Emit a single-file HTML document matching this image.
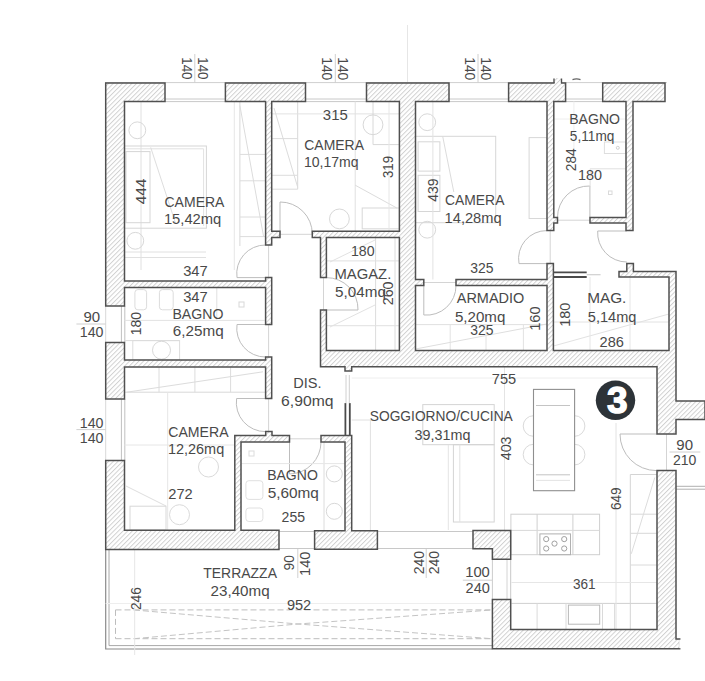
<!DOCTYPE html>
<html><head><meta charset="utf-8"><style>
html,body{margin:0;padding:0;background:#fff;}
svg{display:block;}
text{font-family:"Liberation Sans",sans-serif;fill:#494949;}
</style></head><body>
<svg width="705" height="681" viewBox="0 0 705 681">
<defs>
<pattern id="h" patternUnits="userSpaceOnUse" width="3.3" height="4" patternTransform="rotate(45)">
<rect width="3.3" height="4" fill="#fff"/>
<line x1="0.5" y1="0" x2="0.5" y2="4" stroke="#cdcdcd" stroke-width="0.9"/>
</pattern>
</defs>
<rect width="705" height="681" fill="#fff"/>
<line x1="407.5" y1="25" x2="407.5" y2="83" stroke="#e6e6e6" stroke-width="1" />
<line x1="105" y1="82.6" x2="667" y2="82.6" stroke="#cfcfcf" stroke-width="1" />
<line x1="165" y1="99" x2="225.4" y2="99" stroke="#c8c8c8" stroke-width="1" />
<line x1="165" y1="101.6" x2="225.4" y2="101.6" stroke="#c8c8c8" stroke-width="1" />
<line x1="305.5" y1="99" x2="366.5" y2="99" stroke="#c8c8c8" stroke-width="1" />
<line x1="305.5" y1="101.6" x2="366.5" y2="101.6" stroke="#c8c8c8" stroke-width="1" />
<line x1="449" y1="99" x2="508.6" y2="99" stroke="#c8c8c8" stroke-width="1" />
<line x1="449" y1="101.6" x2="508.6" y2="101.6" stroke="#c8c8c8" stroke-width="1" />
<line x1="565.6" y1="99" x2="602.7" y2="99" stroke="#c8c8c8" stroke-width="1" />
<line x1="565.6" y1="101.6" x2="602.7" y2="101.6" stroke="#c8c8c8" stroke-width="1" />
<line x1="121.4" y1="306" x2="121.4" y2="342.4" stroke="#c0c0c0" stroke-width="1" />
<line x1="124.8" y1="306" x2="124.8" y2="342.4" stroke="#c0c0c0" stroke-width="1" />
<line x1="105.7" y1="306" x2="105.7" y2="342.4" stroke="#d8d8d8" stroke-width="1" />
<line x1="121.4" y1="399" x2="121.4" y2="460.5" stroke="#c0c0c0" stroke-width="1" />
<line x1="124.8" y1="399" x2="124.8" y2="460.5" stroke="#c0c0c0" stroke-width="1" />
<line x1="105.7" y1="399" x2="105.7" y2="460.5" stroke="#d8d8d8" stroke-width="1" />
<line x1="279" y1="531.5" x2="314.6" y2="531.5" stroke="#c8c8c8" stroke-width="1" />
<line x1="279" y1="548.5" x2="314.6" y2="548.5" stroke="#c8c8c8" stroke-width="1" />
<line x1="377.4" y1="531.5" x2="473" y2="531.5" stroke="#c8c8c8" stroke-width="1" />
<line x1="377.4" y1="548.5" x2="473" y2="548.5" stroke="#c8c8c8" stroke-width="1" />
<line x1="510.7" y1="560" x2="510.7" y2="599.5" stroke="#c8c8c8" stroke-width="1" />
<line x1="507" y1="560" x2="507" y2="599.5" stroke="#d4d4d4" stroke-width="1" />
<line x1="492.4" y1="549.4" x2="492.4" y2="599.5" stroke="#cccccc" stroke-width="1" />
<path d="M265.6,277.6 L237,277.6 A28.600000000000023,28.600000000000023 0 0 1 265.6,245" fill="none" stroke="#bdbdbd" stroke-width="1" />
<path d="M280,234 L280,202 A32,32 0 0 1 312.3,234" fill="none" stroke="#bdbdbd" stroke-width="1" />
<path d="M326.4,310 L358,310 A31.600000000000023,31.600000000000023 0 0 0 326.4,277.6" fill="none" stroke="#bdbdbd" stroke-width="1" />
<path d="M265.6,324.5 L237,324.5 A28.600000000000023,28.600000000000023 0 0 0 265.6,357" fill="none" stroke="#bdbdbd" stroke-width="1" />
<path d="M265.6,398.5 L236.6,398.5 A29.00000000000003,29.00000000000003 0 0 0 265.6,431.6" fill="none" stroke="#bdbdbd" stroke-width="1" />
<path d="M289.5,442 L289.5,474 A32,32 0 0 0 321,442" fill="none" stroke="#bdbdbd" stroke-width="1" />
<path d="M423.8,285.6 L423.8,315 A29.399999999999977,29.399999999999977 0 0 0 456,285.6" fill="none" stroke="#bdbdbd" stroke-width="1" />
<path d="M547,263.6 L519,263.6 A28,28 0 0 1 547,230.6" fill="none" stroke="#bdbdbd" stroke-width="1" />
<path d="M626.8,231 L597.7,231 A29.09999999999991,29.09999999999991 0 0 0 626.8,262" fill="none" stroke="#bdbdbd" stroke-width="1" />
<path d="M656.5,434 L620,434 A36.5,36.5 0 0 0 656.5,470.6" fill="none" stroke="#bdbdbd" stroke-width="1" />
<path d="M589.9,217.4 L589.9,186 A31.400000000000006,31.400000000000006 0 0 0 557.5,217.4" fill="none" stroke="#bdbdbd" stroke-width="1" />
<line x1="268.6" y1="237" x2="268.6" y2="436" stroke="#d4d4d4" stroke-width="1" />
<line x1="280" y1="234.3" x2="312.3" y2="234.3" stroke="#d4d4d4" stroke-width="1" />
<line x1="323.5" y1="277.6" x2="323.5" y2="310" stroke="#d4d4d4" stroke-width="1" />
<line x1="289.5" y1="438.8" x2="321" y2="438.8" stroke="#d4d4d4" stroke-width="1" />
<line x1="423.8" y1="282.5" x2="456" y2="282.5" stroke="#d4d4d4" stroke-width="1" />
<line x1="550.2" y1="230.6" x2="550.2" y2="263.6" stroke="#d4d4d4" stroke-width="1" />
<line x1="557.5" y1="220.2" x2="590" y2="220.2" stroke="#d4d4d4" stroke-width="1" />
<line x1="666.5" y1="434" x2="666.5" y2="470.6" stroke="#d4d4d4" stroke-width="1" />
<path d="M105.7,549.4 L105.7,649 L492.4,649" fill="none" stroke="#8a8a8a" stroke-width="1.2" />
<path d="M109,549.4 L109,645.6 L492.4,645.6" fill="none" stroke="#a8a8a8" stroke-width="1" />
<path d="M115.5,609.9 L492,609.9 M115.5,638.7 L492,638.7 M115.5,609.9 L115.5,638.7" fill="none" stroke="#bdbdbd" stroke-width="1" stroke-dasharray="6,3"/>
<path d="M134,610 L298,624 L492,610 M134,638.7 L298,624 L492,638.7" fill="none" stroke="#c4c4c4" stroke-width="1" stroke-dasharray="6,3"/>
<line x1="134.7" y1="549.4" x2="134.7" y2="655" stroke="#e6e6e6" stroke-width="1" />
<line x1="105.7" y1="603.5" x2="492" y2="603.5" stroke="#eeeeee" stroke-width="1" />
<circle cx="533.5" cy="426" r="10.3" fill="none" stroke="#dadada" stroke-width="1"/>
<circle cx="533.5" cy="454.6" r="10.3" fill="none" stroke="#dadada" stroke-width="1"/>
<circle cx="574.6" cy="426" r="10.3" fill="none" stroke="#dadada" stroke-width="1"/>
<circle cx="574.6" cy="454.6" r="10.3" fill="none" stroke="#dadada" stroke-width="1"/>
<rect x="533.5" y="389.4" width="41.1" height="101.3" fill="#fff" stroke="#8f8f8f" stroke-width="1.1"/>
<line x1="536" y1="405.5" x2="570" y2="405.5" stroke="#c4c4c4" stroke-width="1" />
<line x1="536" y1="474.8" x2="570" y2="474.8" stroke="#c4c4c4" stroke-width="1" />
<line x1="536" y1="480.4" x2="570" y2="480.4" stroke="#e4e4e4" stroke-width="1" />
<rect x="422.8" y="404.6" width="71.4" height="40.1" fill="none" stroke="#d4d4d4" stroke-width="1" />
<rect x="453.4" y="444.7" width="40.8" height="77.3" fill="none" stroke="#d4d4d4" stroke-width="1" />
<line x1="459.8" y1="444.7" x2="459.8" y2="522" stroke="#e2e2e2" stroke-width="1" />
<line x1="370.4" y1="420" x2="370.4" y2="530" stroke="#e0e0e0" stroke-width="1" />
<line x1="351.7" y1="420" x2="370.4" y2="420" stroke="#e0e0e0" stroke-width="1" />
<line x1="448.3" y1="445" x2="448.3" y2="530" stroke="#e4e4e4" stroke-width="1" />
<line x1="504.5" y1="367" x2="504.5" y2="530" stroke="#e4e4e4" stroke-width="1" />
<line x1="351.7" y1="378" x2="656" y2="378" stroke="#eeeeee" stroke-width="1" />
<rect x="510.9" y="514.2" width="88.7" height="40.5" fill="none" stroke="#cfcfcf" stroke-width="1" />
<line x1="537.1" y1="514.2" x2="537.1" y2="554.7" stroke="#cfcfcf" stroke-width="1" />
<line x1="572.9" y1="514.2" x2="572.9" y2="554.7" stroke="#cfcfcf" stroke-width="1" />
<line x1="510.9" y1="530.4" x2="599.6" y2="530.4" stroke="#d8d8d8" stroke-width="1" />
<rect x="539.9" y="533.9" width="30.6" height="20.8" fill="none" stroke="#b0b0b0" stroke-width="1" />
<circle cx="546.2" cy="539.1" r="2.6" fill="none" stroke="#a0a0a0" stroke-width="1"/>
<circle cx="564.2" cy="539.1" r="2.6" fill="none" stroke="#a0a0a0" stroke-width="1"/>
<circle cx="554.5" cy="543.6" r="2.6" fill="none" stroke="#a0a0a0" stroke-width="1"/>
<circle cx="546.2" cy="548.5" r="2.6" fill="none" stroke="#a0a0a0" stroke-width="1"/>
<circle cx="564.2" cy="548.5" r="2.6" fill="none" stroke="#a0a0a0" stroke-width="1"/>
<line x1="511.4" y1="603.4" x2="658" y2="603.4" stroke="#cfcfcf" stroke-width="1" />
<rect x="568.4" y="605.1" width="31.3" height="19.1" fill="none" stroke="#b8b8b8" stroke-width="1" />
<line x1="537.1" y1="603.4" x2="537.1" y2="630.5" stroke="#dadada" stroke-width="1" />
<line x1="566" y1="603.4" x2="566" y2="630.5" stroke="#dadada" stroke-width="1" />
<line x1="602.5" y1="603.4" x2="602.5" y2="630.5" stroke="#dadada" stroke-width="1" />
<line x1="614.6" y1="603.4" x2="614.6" y2="630.5" stroke="#dadada" stroke-width="1" />
<line x1="630.3" y1="474.5" x2="630.3" y2="630.5" stroke="#d4d4d4" stroke-width="1" />
<line x1="630.3" y1="474.5" x2="656.8" y2="474.5" stroke="#d4d4d4" stroke-width="1" />
<line x1="630.3" y1="514.2" x2="656.8" y2="514.2" stroke="#d8d8d8" stroke-width="1" />
<line x1="630.3" y1="533.3" x2="656.8" y2="533.3" stroke="#d8d8d8" stroke-width="1" />
<line x1="630.3" y1="565" x2="656.8" y2="565" stroke="#dadada" stroke-width="1" />
<line x1="631.3" y1="553.8" x2="654.8" y2="477.5" stroke="#dcdcdc" stroke-width="1" />
<line x1="616" y1="423" x2="616" y2="629" stroke="#e2e2e2" stroke-width="1" />
<line x1="511.4" y1="582.5" x2="658" y2="582.5" stroke="#e6e6e6" stroke-width="1" />
<line x1="141" y1="101.4" x2="141" y2="270" stroke="#e0e0e0" stroke-width="1" />
<rect x="124.5" y="146" width="81.9" height="82.2" fill="none" stroke="#d6d6d6" stroke-width="1" />
<line x1="124.5" y1="148.8" x2="203.6" y2="148.8" stroke="#e2e2e2" stroke-width="1" />
<line x1="203.6" y1="148.8" x2="203.6" y2="226" stroke="#e2e2e2" stroke-width="1" />
<rect x="126" y="151.6" width="24" height="71.1" fill="none" stroke="#d6d6d6" stroke-width="1" />
<line x1="150.7" y1="147.4" x2="175.8" y2="224" stroke="#dedede" stroke-width="1" />
<circle cx="137.3" cy="130.3" r="8.4" fill="none" stroke="#d8d8d8" stroke-width="1"/>
<circle cx="135.3" cy="240.8" r="8.4" fill="none" stroke="#d8d8d8" stroke-width="1"/>
<line x1="124.5" y1="252" x2="206" y2="252" stroke="#e0e0e0" stroke-width="1" />
<line x1="124.5" y1="257.5" x2="206" y2="257.5" stroke="#e0e0e0" stroke-width="1" />
<line x1="239.9" y1="101.4" x2="239.9" y2="246" stroke="#d8d8d8" stroke-width="1" />
<line x1="234.3" y1="101.4" x2="234.3" y2="270" stroke="#e6e6e6" stroke-width="1" />
<line x1="239.9" y1="154.4" x2="265.6" y2="154.4" stroke="#dcdcdc" stroke-width="1" />
<line x1="239.9" y1="180.8" x2="265.6" y2="180.8" stroke="#dcdcdc" stroke-width="1" />
<line x1="239.9" y1="217" x2="265.6" y2="217" stroke="#dcdcdc" stroke-width="1" />
<line x1="239.9" y1="236.6" x2="265.6" y2="236.6" stroke="#dcdcdc" stroke-width="1" />
<line x1="239.9" y1="105.6" x2="263.6" y2="236.6" stroke="#dcdcdc" stroke-width="1" />
<line x1="297.7" y1="101.4" x2="297.7" y2="189.2" stroke="#d8d8d8" stroke-width="1" />
<line x1="271.7" y1="138.6" x2="297.7" y2="138.6" stroke="#dcdcdc" stroke-width="1" />
<line x1="271.7" y1="175.3" x2="297.7" y2="175.3" stroke="#dcdcdc" stroke-width="1" />
<line x1="271.7" y1="189.2" x2="297.7" y2="189.2" stroke="#dcdcdc" stroke-width="1" />
<line x1="271.7" y1="113.9" x2="399.4" y2="113.9" stroke="#e2e2e2" stroke-width="1" />
<line x1="274" y1="108" x2="297.7" y2="187.2" stroke="#dcdcdc" stroke-width="1" />
<line x1="355.2" y1="101.5" x2="355.2" y2="231.2" stroke="#e0e0e0" stroke-width="1" />
<line x1="373" y1="101.5" x2="373" y2="144.6" stroke="#d8d8d8" stroke-width="1" />
<line x1="373" y1="144.6" x2="399.4" y2="144.6" stroke="#d8d8d8" stroke-width="1" />
<circle cx="373" cy="124.8" r="9.9" fill="none" stroke="#d8d8d8" stroke-width="1"/>
<line x1="355.2" y1="185.2" x2="396.8" y2="208" stroke="#dcdcdc" stroke-width="1" />
<rect x="362.2" y="208" width="37.2" height="20.8" fill="none" stroke="#d8d8d8" stroke-width="1" />
<circle cx="339.4" cy="218.9" r="9.9" fill="none" stroke="#d8d8d8" stroke-width="1"/>
<line x1="389" y1="101.5" x2="389" y2="231.2" stroke="#e6e6e6" stroke-width="1" />
<rect x="415.5" y="136.3" width="80.2" height="86.4" fill="none" stroke="#d6d6d6" stroke-width="1" />
<rect x="418.1" y="141.8" width="21.8" height="29.3" fill="none" stroke="#d6d6d6" stroke-width="1" />
<rect x="418.1" y="175.3" width="21.8" height="36.2" fill="none" stroke="#d6d6d6" stroke-width="1" />
<line x1="442.7" y1="136.3" x2="453.8" y2="192" stroke="#dcdcdc" stroke-width="1" />
<circle cx="427.2" cy="122.2" r="8.4" fill="none" stroke="#d8d8d8" stroke-width="1"/>
<circle cx="427.2" cy="229.7" r="8.4" fill="none" stroke="#d8d8d8" stroke-width="1"/>
<line x1="432.9" y1="101.5" x2="432.9" y2="279.5" stroke="#e2e2e2" stroke-width="1" />
<rect x="529.1" y="137.6" width="17.9" height="80.9" fill="none" stroke="#d8d8d8" stroke-width="1" />
<rect x="604.4" y="142" width="21.6" height="11.5" fill="none" stroke="#dedede" stroke-width="1" />
<circle cx="617.8" cy="147.8" r="1.5" fill="none" stroke="#d0d0d0" stroke-width="1"/>
<line x1="590.1" y1="168.8" x2="626" y2="168.8" stroke="#e0e0e0" stroke-width="1" />
<line x1="590.1" y1="168.8" x2="590.1" y2="187.5" stroke="#e0e0e0" stroke-width="1" />
<rect x="608.5" y="191" width="3.5" height="3.5" fill="none" stroke="#dadada" stroke-width="1" />
<line x1="553.8" y1="119" x2="626" y2="119" stroke="#eeeeee" stroke-width="1" />
<line x1="573.9" y1="101.5" x2="573.9" y2="160" stroke="#eeeeee" stroke-width="1" />
<line x1="375.6" y1="237.4" x2="375.6" y2="350.4" stroke="#dcdcdc" stroke-width="1" />
<line x1="395" y1="237.4" x2="395" y2="350.4" stroke="#dcdcdc" stroke-width="1" />
<line x1="326.4" y1="260.9" x2="399.4" y2="260.9" stroke="#e0e0e0" stroke-width="1" />
<line x1="326.4" y1="325.7" x2="399.4" y2="325.7" stroke="#e0e0e0" stroke-width="1" />
<line x1="330" y1="262" x2="375" y2="240" stroke="#e2e2e2" stroke-width="1" />
<line x1="330" y1="327" x2="375" y2="305" stroke="#e2e2e2" stroke-width="1" />
<rect x="134.9" y="289.6" width="11.7" height="20.2" fill="none" stroke="#dcdcdc" stroke-width="1" rx="3"/>
<rect x="159.4" y="289.6" width="13.8" height="20.2" fill="none" stroke="#dcdcdc" stroke-width="1" rx="3"/>
<line x1="124.5" y1="320.4" x2="264.7" y2="320.4" stroke="#e2e2e2" stroke-width="1" />
<line x1="124.5" y1="340.6" x2="179.6" y2="340.6" stroke="#dcdcdc" stroke-width="1" />
<rect x="132.8" y="340.6" width="46.8" height="19.4" fill="none" stroke="#dcdcdc" stroke-width="1" />
<circle cx="161.5" cy="350.2" r="9" fill="none" stroke="#d8d8d8" stroke-width="1"/>
<line x1="216.8" y1="288" x2="216.8" y2="320.4" stroke="#e0e0e0" stroke-width="1" />
<rect x="239" y="302" width="5" height="5" fill="none" stroke="#d8d8d8" stroke-width="1" />
<line x1="124.5" y1="392.2" x2="265.6" y2="392.2" stroke="#d8d8d8" stroke-width="1" />
<line x1="159" y1="367" x2="159" y2="392.2" stroke="#dcdcdc" stroke-width="1" />
<line x1="194.9" y1="367" x2="194.9" y2="392.2" stroke="#dcdcdc" stroke-width="1" />
<line x1="230.6" y1="367" x2="230.6" y2="392.2" stroke="#dcdcdc" stroke-width="1" />
<line x1="126.8" y1="392.2" x2="263" y2="371.8" stroke="#dcdcdc" stroke-width="1" />
<line x1="167.7" y1="392.2" x2="167.7" y2="530" stroke="#e6e6e6" stroke-width="1" />
<line x1="124.5" y1="445" x2="236" y2="445" stroke="#e6e6e6" stroke-width="1" />
<circle cx="208.5" cy="467" r="10" fill="none" stroke="#dadada" stroke-width="1"/>
<rect x="130" y="506.2" width="36" height="23.8" fill="none" stroke="#d8d8d8" stroke-width="1" />
<circle cx="179.5" cy="514.7" r="10" fill="none" stroke="#dadada" stroke-width="1"/>
<line x1="126" y1="486" x2="166" y2="506" stroke="#dedede" stroke-width="1" />
<rect x="249" y="451" width="5" height="5" fill="none" stroke="#dcdcdc" stroke-width="1" />
<rect x="245.9" y="480.7" width="17" height="18.7" fill="none" stroke="#e0e0e0" stroke-width="1" rx="3"/>
<rect x="245.9" y="508" width="17" height="13.5" fill="none" stroke="#e0e0e0" stroke-width="1" rx="3"/>
<line x1="324" y1="442" x2="324" y2="530.8" stroke="#dcdcdc" stroke-width="1" />
<circle cx="334.3" cy="473.9" r="8" fill="none" stroke="#d8d8d8" stroke-width="1"/>
<circle cx="334.3" cy="511.3" r="8" fill="none" stroke="#d8d8d8" stroke-width="1"/>
<line x1="241" y1="463.6" x2="345" y2="463.6" stroke="#e6e6e6" stroke-width="1" />
<line x1="415.5" y1="324.6" x2="547" y2="324.6" stroke="#e0e0e0" stroke-width="1" />
<line x1="415.5" y1="349" x2="547.2" y2="323.9" stroke="#dedede" stroke-width="1" />
<line x1="450.2" y1="324.6" x2="450.2" y2="350.4" stroke="#e2e2e2" stroke-width="1" />
<line x1="486" y1="324.6" x2="486" y2="350.4" stroke="#e2e2e2" stroke-width="1" />
<line x1="523.4" y1="324.6" x2="523.4" y2="350.4" stroke="#e2e2e2" stroke-width="1" />
<line x1="553.4" y1="322" x2="669" y2="322" stroke="#e2e2e2" stroke-width="1" />
<line x1="553.4" y1="346" x2="669" y2="314" stroke="#e2e2e2" stroke-width="1" />
<line x1="590" y1="277" x2="590" y2="350.4" stroke="#e6e6e6" stroke-width="1" />
<line x1="630" y1="277" x2="630" y2="350.4" stroke="#e6e6e6" stroke-width="1" />
<line x1="553.4" y1="272.4" x2="586.7" y2="272.4" stroke="#4a4a4a" stroke-width="1.8" />
<line x1="553.4" y1="277" x2="586.7" y2="277" stroke="#4a4a4a" stroke-width="1.8" />
<line x1="586.7" y1="274.7" x2="600.6" y2="274.7" stroke="#d0d0d0" stroke-width="1.2" />
<line x1="345.4" y1="403.1" x2="345.4" y2="436" stroke="#4a4a4a" stroke-width="1.8" />
<line x1="349.8" y1="403.1" x2="349.8" y2="436" stroke="#4a4a4a" stroke-width="1.8" />
<line x1="346" y1="375" x2="346" y2="403.1" stroke="#d0d0d0" stroke-width="1" />
<line x1="349.3" y1="375" x2="349.3" y2="403.1" stroke="#d0d0d0" stroke-width="1" />
<line x1="194.8" y1="54" x2="194.8" y2="83" stroke="#d0d0d0" stroke-width="1" />
<line x1="335.3" y1="54" x2="335.3" y2="83" stroke="#d0d0d0" stroke-width="1" />
<line x1="478" y1="54" x2="478" y2="83" stroke="#d0d0d0" stroke-width="1" />
<line x1="76.4" y1="324" x2="105.7" y2="324" stroke="#d0d0d0" stroke-width="1" />
<line x1="76.4" y1="429.6" x2="105.7" y2="429.6" stroke="#d0d0d0" stroke-width="1" />
<line x1="669.5" y1="452" x2="700.3" y2="452" stroke="#d0d0d0" stroke-width="1" />
<line x1="297.8" y1="549" x2="297.8" y2="578" stroke="#d0d0d0" stroke-width="1" />
<line x1="426.2" y1="549" x2="426.2" y2="578" stroke="#d0d0d0" stroke-width="1" />
<line x1="462.8" y1="580.2" x2="492" y2="580.2" stroke="#d0d0d0" stroke-width="1" />
<line x1="675.3" y1="486.3" x2="705" y2="486.3" stroke="#b0b0b0" stroke-width="1" />
<line x1="675.3" y1="489.2" x2="705" y2="489.2" stroke="#b0b0b0" stroke-width="1" />
<path d="M124.50,287.60 L265.60,287.60 L265.60,324.50 L271.70,324.50 L271.70,287.60 L271.70,281.10 L271.70,277.60 L265.60,277.60 L265.60,281.10 L124.50,281.10 L124.50,101.40 L165.00,101.40 L165.00,83.00 L124.50,83.00 L105.70,83.00 L105.70,101.40 L105.70,306.00 L124.50,306.00 ZM271.70,245.00 L271.70,237.40 L280.00,237.40 L280.00,231.20 L271.70,231.20 L271.70,101.40 L305.50,101.40 L305.50,83.00 L225.40,83.00 L225.40,101.40 L265.60,101.40 L265.60,245.00 ZM271.70,367.00 L271.70,360.00 L271.70,357.00 L265.60,357.00 L265.60,360.00 L124.50,360.00 L124.50,342.40 L105.70,342.40 L105.70,399.00 L124.50,399.00 L124.50,367.00 L265.60,367.00 L265.60,398.50 L271.70,398.50 ZM265.70,435.50 L241.00,435.50 L234.80,435.50 L234.80,442.00 L234.80,530.20 L124.50,530.20 L124.50,460.50 L105.70,460.50 L105.70,530.20 L105.70,549.40 L124.50,549.40 L279.00,549.40 L279.00,530.20 L241.00,530.20 L241.00,442.00 L289.50,442.00 L289.50,435.50 L272.00,435.50 L272.00,431.60 L265.70,431.60 ZM399.40,83.00 L366.50,83.00 L366.50,101.50 L399.40,101.50 L399.40,231.20 L326.40,231.20 L320.50,231.20 L312.30,231.20 L312.30,237.40 L320.50,237.40 L320.50,277.60 L326.40,277.60 L326.40,237.40 L399.40,237.40 L399.40,350.40 L326.40,350.40 L326.40,310.00 L320.50,310.00 L320.50,350.40 L320.50,366.80 L326.40,366.80 L345.00,366.80 L345.00,371.00 L351.70,371.00 L351.70,366.80 L399.40,366.80 L415.50,366.80 L657.00,366.80 L657.00,434.00 L676.00,434.00 L676.00,419.50 L705.00,419.50 L705.00,401.00 L676.00,401.00 L676.00,366.80 L676.00,350.40 L676.00,277.00 L676.00,271.60 L669.00,271.60 L633.40,271.60 L633.40,263.60 L626.80,263.60 L626.80,271.60 L619.00,271.60 L619.00,277.00 L669.00,277.00 L669.00,350.40 L657.00,350.40 L553.40,350.40 L553.40,285.60 L553.40,279.50 L553.40,263.60 L547.00,263.60 L547.00,279.50 L456.00,279.50 L456.00,285.60 L547.00,285.60 L547.00,350.40 L415.50,350.40 L415.50,285.60 L423.80,285.60 L423.80,279.50 L415.50,279.50 L415.50,101.50 L449.00,101.50 L449.00,83.00 L415.50,83.00 ZM345.00,442.00 L345.00,530.80 L314.60,530.80 L314.60,549.30 L377.40,549.30 L377.40,530.80 L351.70,530.80 L351.70,442.00 L351.70,435.50 L345.00,435.50 L321.00,435.50 L321.00,442.00 ZM473.00,530.40 L473.00,548.80 L492.40,548.80 L492.40,559.30 L510.70,559.30 L510.70,548.80 L510.70,530.40 L492.40,530.40 ZM492.40,629.50 L492.40,648.20 L492.40,648.80 L657.00,648.80 L676.00,648.80 L679.70,648.80 L679.70,638.90 L676.00,638.90 L676.00,629.50 L676.00,470.60 L657.00,470.60 L657.00,629.50 L510.70,629.50 L510.70,599.50 L492.40,599.50 ZM547.00,101.50 L547.00,230.60 L553.80,230.60 L553.80,223.00 L557.50,223.00 L557.50,217.40 L553.80,217.40 L553.80,101.50 L565.60,101.50 L565.60,83.00 L508.60,83.00 L508.60,101.50 ZM602.70,101.50 L626.00,101.50 L626.00,217.40 L590.00,217.40 L590.00,223.00 L626.00,223.00 L626.00,230.60 L633.00,230.60 L633.00,101.50 L665.00,101.50 L665.00,83.00 L602.70,83.00 Z" fill="url(#h)" stroke="#505050" stroke-width="1.5" stroke-linejoin="miter" fill-rule="evenodd"/>
<rect x="554.6" y="78" width="6.4" height="6" fill="url(#h)"/>
<line x1="554" y1="78.5" x2="554" y2="83" stroke="#505050" stroke-width="1.4"/>
<line x1="561.5" y1="78.5" x2="561.5" y2="83" stroke="#505050" stroke-width="1.4"/>
<path d="M572.5,79.6 Q576.5,78 580.5,79.6" fill="none" stroke="#666" stroke-width="1.2"/>
<rect x="679.1" y="639.7" width="2" height="8.4" fill="#fff"/>
<circle cx="615.5" cy="400.2" r="19.7" fill="#2d3338"/>
<text x="0" y="0" font-size="37" font-weight="bold" text-anchor="middle" transform="translate(617.2 413.4) scale(1.0 1)" style="fill:#fff;stroke:#fff;stroke-width:1.4">3</text>
<text x="0" y="0" font-size="14.0" transform="translate(164.50 206.60) scale(1.002 1)">CAMERA</text>
<text x="0" y="0" font-size="14.4" transform="translate(163.89 223.80) scale(1.025 1)">15,42mq</text>
<text x="0" y="0" font-size="14.4" transform="translate(322.84 119.50) scale(1.039 1)">315</text>
<text x="0" y="0" font-size="14.0" transform="translate(304.30 149.90) scale(0.997 1)">CAMERA</text>
<text x="0" y="0" font-size="14.4" transform="translate(303.94 167.00) scale(0.977 1)">10,17mq</text>
<text x="0" y="0" font-size="14.0" transform="translate(445.01 205.40) scale(0.992 1)">CAMERA</text>
<text x="0" y="0" font-size="14.4" transform="translate(444.60 222.60) scale(1.018 1)">14,28mq</text>
<text x="0" y="0" font-size="14.0" transform="translate(569.24 123.50) scale(1.005 1)">BAGNO</text>
<text x="0" y="0" font-size="14.4" transform="translate(569.85 140.70) scale(0.948 1)">5,11mq</text>
<text x="0" y="0" font-size="14.4" transform="translate(577.92 180.40) scale(1.000 1)">180</text>
<text x="0" y="0" font-size="14.4" transform="translate(183.15 275.50) scale(1.024 1)">347</text>
<text x="0" y="0" font-size="14.4" transform="translate(183.15 302.00) scale(1.024 1)">347</text>
<text x="0" y="0" font-size="14.0" transform="translate(172.43 319.00) scale(1.009 1)">BAGNO</text>
<text x="0" y="0" font-size="14.4" transform="translate(172.84 336.30) scale(1.060 1)">6,25mq</text>
<text x="0" y="0" font-size="14.4" transform="translate(83.49 321.50) scale(1.043 1)">90</text>
<text x="0" y="0" font-size="14.4" transform="translate(79.73 337.00) scale(0.987 1)">140</text>
<text x="0" y="0" font-size="14.4" transform="translate(350.94 255.70) scale(0.982 1)">180</text>
<text x="0" y="0" font-size="14.0" transform="translate(334.48 278.70) scale(1.060 1)">MAGAZ.</text>
<text x="0" y="0" font-size="14.4" transform="translate(335.09 296.70) scale(1.059 1)">5,04mq</text>
<text x="0" y="0" font-size="14.0" transform="translate(293.20 388.00) scale(1.040 1)">DIS.</text>
<text x="0" y="0" font-size="14.4" transform="translate(281.11 406.20) scale(1.093 1)">6,90mq</text>
<text x="0" y="0" font-size="14.4" transform="translate(470.28 272.90) scale(0.970 1)">325</text>
<text x="0" y="0" font-size="14.0" transform="translate(456.76 303.30) scale(1.035 1)">ARMADIO</text>
<text x="0" y="0" font-size="14.4" transform="translate(454.89 321.80) scale(1.051 1)">5,20mq</text>
<text x="0" y="0" font-size="14.4" transform="translate(470.28 335.00) scale(0.970 1)">325</text>
<text x="0" y="0" font-size="14.4" transform="translate(491.77 384.00) scale(1.013 1)">755</text>
<text x="0" y="0" font-size="14.0" transform="translate(587.13 303.30) scale(1.097 1)">MAG.</text>
<text x="0" y="0" font-size="14.4" transform="translate(587.82 321.80) scale(1.012 1)">5,14mq</text>
<text x="0" y="0" font-size="14.4" transform="translate(599.57 347.00) scale(1.014 1)">286</text>
<text x="0" y="0" font-size="14.0" transform="translate(168.30 436.70) scale(1.007 1)">CAMERA</text>
<text x="0" y="0" font-size="14.4" transform="translate(167.91 453.80) scale(1.005 1)">12,26mq</text>
<text x="0" y="0" font-size="14.4" transform="translate(168.27 498.80) scale(1.019 1)">272</text>
<text x="0" y="0" font-size="14.4" transform="translate(79.73 427.50) scale(0.987 1)">140</text>
<text x="0" y="0" font-size="14.4" transform="translate(79.73 443.00) scale(0.987 1)">140</text>
<text x="0" y="0" font-size="14.0" transform="translate(267.14 480.00) scale(1.003 1)">BAGNO</text>
<text x="0" y="0" font-size="14.4" transform="translate(267.68 497.60) scale(1.068 1)">5,60mq</text>
<text x="0" y="0" font-size="14.4" transform="translate(281.60 522.00) scale(0.977 1)">255</text>
<text x="0" y="0" font-size="14.0" transform="translate(369.78 421.20) scale(0.984 1)">SOGGIORNO/CUCINA</text>
<text x="0" y="0" font-size="14.4" transform="translate(414.56 439.50) scale(0.997 1)">39,31mq</text>
<text x="0" y="0" font-size="14.4" transform="translate(676.29 449.60) scale(1.043 1)">90</text>
<text x="0" y="0" font-size="14.4" transform="translate(672.90 465.10) scale(0.976 1)">210</text>
<text x="0" y="0" font-size="14.0" transform="translate(203.29 578.20) scale(0.998 1)">TERRAZZA</text>
<text x="0" y="0" font-size="14.4" transform="translate(210.54 596.00) scale(1.055 1)">23,40mq</text>
<text x="0" y="0" font-size="14.4" transform="translate(572.99 589.00) scale(0.943 1)">361</text>
<text x="0" y="0" font-size="14.4" transform="translate(465.19 577.00) scale(1.027 1)">100</text>
<text x="0" y="0" font-size="14.4" transform="translate(465.57 592.90) scale(1.011 1)">240</text>
<text x="0" y="0" font-size="14.4" transform="translate(286.91 609.90) scale(1.013 1)">952</text>
<text x="0" y="0" font-size="14.0" transform="translate(140.90 191.50) rotate(-90) translate(-12.85 4.81) scale(1.104 1)">444</text>
<text x="0" y="0" font-size="14.0" transform="translate(388.25 167.05) rotate(-90) translate(-11.05 4.81) scale(0.951 1)">319</text>
<text x="0" y="0" font-size="14.0" transform="translate(432.75 190.20) rotate(-90) translate(-11.52 4.81) scale(1.000 1)">439</text>
<text x="0" y="0" font-size="14.0" transform="translate(571.50 159.60) rotate(-90) translate(-11.69 4.81) scale(0.988 1)">284</text>
<text x="0" y="0" font-size="14.0" transform="translate(135.85 323.35) rotate(-90) translate(-11.90 4.81) scale(0.997 1)">180</text>
<text x="0" y="0" font-size="14.0" transform="translate(388.65 293.30) rotate(-90) translate(-12.02 4.81) scale(1.022 1)">260</text>
<text x="0" y="0" font-size="14.0" transform="translate(534.75 318.35) rotate(-90) translate(-12.44 4.81) scale(1.043 1)">160</text>
<text x="0" y="0" font-size="14.0" transform="translate(565.25 314.50) rotate(-90) translate(-12.28 4.81) scale(1.029 1)">180</text>
<text x="0" y="0" font-size="14.0" transform="translate(505.75 448.50) rotate(-90) translate(-11.82 4.81) scale(1.025 1)">403</text>
<text x="0" y="0" font-size="14.0" transform="translate(616.65 498.70) rotate(-90) translate(-11.38 4.81) scale(0.972 1)">649</text>
<text x="0" y="0" font-size="14.0" transform="translate(135.90 598.55) rotate(-90) translate(-11.54 4.81) scale(0.984 1)">246</text>
<text x="0" y="0" font-size="14.0" transform="translate(289.40 562.75) rotate(-90) translate(-7.70 4.81) scale(0.983 1)">90</text>
<text x="0" y="0" font-size="14.0" transform="translate(305.65 563.45) rotate(-90) translate(-12.55 4.81) scale(1.052 1)">140</text>
<text x="0" y="0" font-size="14.0" transform="translate(418.75 562.50) rotate(-90) translate(-11.70 4.81) scale(0.995 1)">240</text>
<text x="0" y="0" font-size="14.0" transform="translate(434.25 562.50) rotate(-90) translate(-11.70 4.81) scale(0.995 1)">240</text>
<text x="0" y="0" font-size="14.0" transform="translate(186.80 68.60) rotate(90) translate(-11.40 4.81) scale(0.955 1)">140</text>
<text x="0" y="0" font-size="14.0" transform="translate(203.00 68.60) rotate(90) translate(-11.40 4.81) scale(0.955 1)">140</text>
<text x="0" y="0" font-size="14.0" transform="translate(327.00 69.00) rotate(90) translate(-11.84 4.81) scale(0.992 1)">140</text>
<text x="0" y="0" font-size="14.0" transform="translate(343.30 69.00) rotate(90) translate(-11.84 4.81) scale(0.992 1)">140</text>
<text x="0" y="0" font-size="14.0" transform="translate(470.15 69.00) rotate(90) translate(-11.84 4.81) scale(0.992 1)">140</text>
<text x="0" y="0" font-size="14.0" transform="translate(486.00 69.00) rotate(90) translate(-11.84 4.81) scale(0.992 1)">140</text>
</svg>
</body></html>
